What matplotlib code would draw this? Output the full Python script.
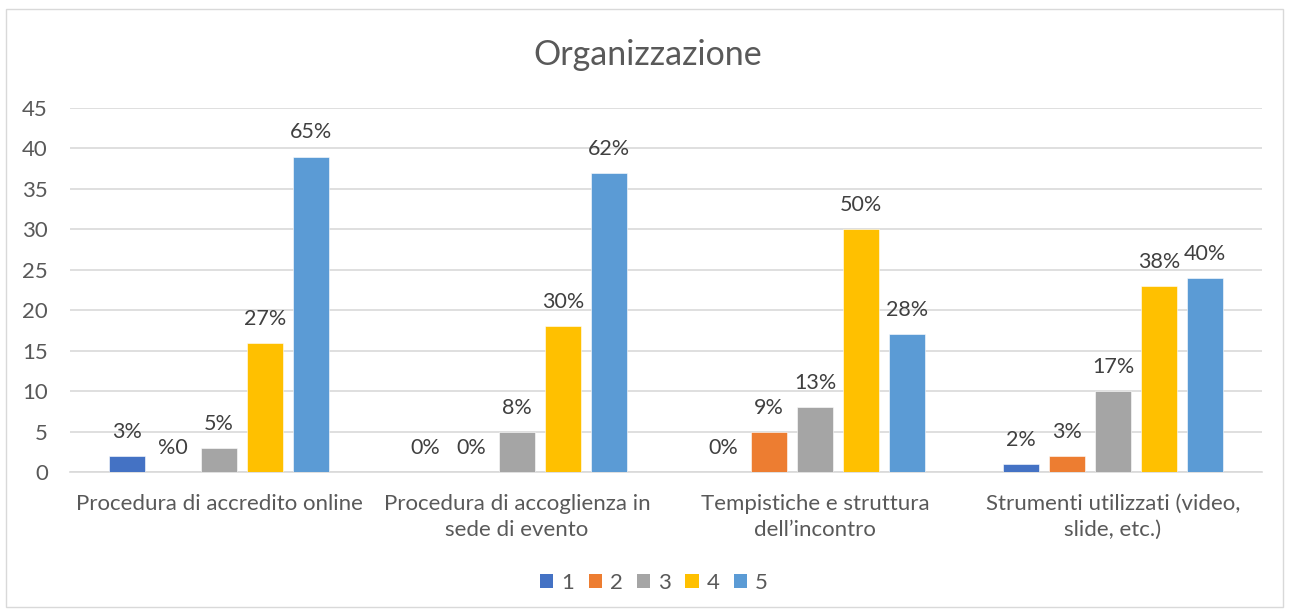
import matplotlib
matplotlib.use("Agg")
import matplotlib.pyplot as plt
from matplotlib.patches import Rectangle, Patch
import numpy as np

plt.rcParams['font.family'] = ['Lato', 'DejaVu Sans']

categories = ["Procedura di accredito online",
              "Procedura di accoglienza in\nsede di evento",
              "Tempistiche e struttura\ndell\u2019incontro",
              "Strumenti utilizzati (video,\nslide, etc.)"]
series_names = ["1", "2", "3", "4", "5"]
values = {
    "1": [2, 0, 0, 1],
    "2": [0, 0, 5, 2],
    "3": [3, 5, 8, 10],
    "4": [16, 18, 30, 23],
    "5": [39, 37, 17, 24],
}
labels = {
    "1": ["3%", "0%", "0%", "2%"],
    "2": ["%0", "0%", "9%", "3%"],
    "3": ["5%", "8%", "13%", "17%"],
    "4": ["27%", "30%", "50%", "38%"],
    "5": ["65%", "62%", "28%", "40%"],
}
colors = ["#4472C4", "#ED7D31", "#A5A5A5", "#FFC000", "#5B9BD5"]
yticks = [0, 5, 10, 15, 20, 25, 30, 35, 40, 45]

W, H = 1290, 614
fig = plt.figure(figsize=(W / 100, H / 100), dpi=100)
fig.patches.append(Rectangle((6 / W, 1 - 607 / H), (1283 - 6) / W, (607 - 9) / H,
                             transform=fig.transFigure, fill=False,
                             edgecolor="#D9D9D9", linewidth=1.0))

ax = fig.add_axes([70 / W, 1 - 472 / H, (1262 - 70) / W, (472 - 108) / H])
x = np.arange(len(categories))
step = 0.154
width = 0.121
txtc = "#404040"
for i, s in enumerate(series_names):
    pos = x + (i - 2) * step
    ax.bar(pos, values[s], width=width, color=colors[i], zorder=3,
           edgecolor="white", linewidth=0.4)
    for xp, v, lab in zip(pos, values[s], labels[s]):
        ax.annotate(lab, (xp, v), xytext=(0, 13), textcoords="offset points",
                    ha="center", va="baseline", fontsize=15.5, color=txtc)

ax.set_xlim(-0.5, len(categories) - 0.5)
ax.set_ylim(0, 45)
ax.set_yticks(yticks)
ax.set_xticks(x)
ax.set_xticklabels(categories, fontsize=16, color="#595959", linespacing=1.35)
ax.tick_params(axis="y", labelsize=16, labelcolor="#595959", length=0, pad=16)
ax.tick_params(axis="x", length=0, pad=16)
for lbl in ax.get_yticklabels():
    lbl.set_horizontalalignment("right")
ax.grid(axis="y", color="#D9D9D9", linewidth=1.2, zorder=0)
for sp in ["top", "right", "left"]:
    ax.spines[sp].set_visible(False)
ax.spines["bottom"].set_color("#D9D9D9")
ax.spines["bottom"].set_linewidth(1.2)

fig.text(648 / W, 1 - 55 / H, "Organizzazione", ha="center", va="center",
         fontsize=24.5, color="#595959")

handles = [Patch(facecolor=c, edgecolor="none") for c in colors]
fig.legend(handles, series_names, loc="center", bbox_to_anchor=(654 / W, 1 - 583 / H),
           ncol=5, frameon=False, fontsize=16, labelcolor="#595959",
           handlelength=0.6, handleheight=0.6, handletextpad=0.35, columnspacing=0.65)

fig.savefig("out.png", dpi=100)
